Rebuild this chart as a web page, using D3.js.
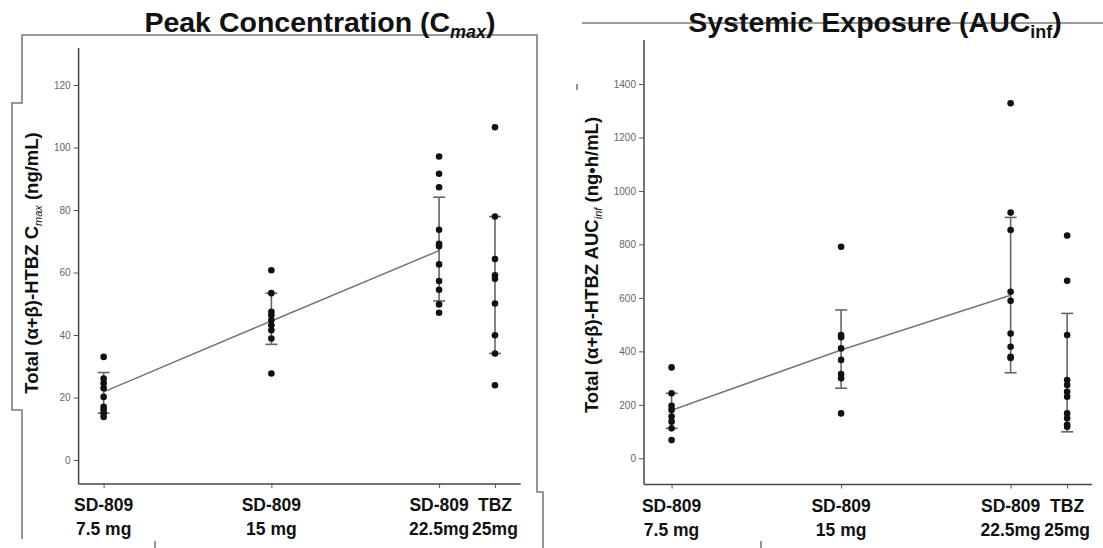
<!DOCTYPE html>
<html><head><meta charset="utf-8">
<script src="https://cdn.jsdelivr.net/npm/d3@7"></script>
<style>html,body{margin:0;padding:0;background:#fff;}svg{display:block;font-family:"Liberation Sans",Arial,sans-serif;}</style>
</head><body>
<svg id="c" width="1103" height="548"></svg>
<script>
// ---- data ----
const categories = ["SD-809|7.5 mg", "SD-809|15 mg", "SD-809|22.5mg", "TBZ|25mg"];
const doses = [7.5, 15, 22.5, 25];

const cmaxPoints = [
  [33.0, 26.1, 24.6, 23.0, 20.2, 17.0, 16.0, 15.0, 13.8],
  [60.7, 53.4, 47.4, 46.3, 44.7, 43.1, 41.5, 38.9, 27.7],
  [97.1, 91.6, 87.3, 73.7, 69.2, 68.4, 62.6, 57.3, 54.5, 49.8, 47.1],
  [106.5, 77.9, 64.3, 59.1, 58.0, 50.1, 39.9, 34.1, 23.9]
];
const cmaxMean = [21.8, 44.5, 67.0, 56.0];
const cmaxUpper = [28.0, 53.4, 84.1, 77.9];
const cmaxLower = [15.0, 37.0, 50.9, 34.1];
const cmaxTicks = [0, 20, 40, 60, 80, 100, 120];

const aucPoints = [
  [340, 243, 196, 181, 156, 137, 112, 68],
  [791, 461, 453, 411, 368, 315, 299, 168],
  [1328, 919, 854, 623, 589, 467, 417, 380, 375],
  [833, 664, 461, 293, 274, 249, 230, 168, 150, 125, 118]
];
const aucMean = [180, 405, 610, 320];
const aucUpper = [243, 555, 901, 542];
const aucLower = [112, 262, 320, 99];
const aucTicks = [0, 200, 400, 600, 800, 1000, 1200, 1400];

const svg = d3.select("#c");

// decorative frame remnants
const deco = svg.append("g").attr("fill","none").attr("stroke","#7a7a7a").attr("stroke-width",1.6);
deco.append("path").attr("d","M22,539V410H12V103H22V35H537V492H543V548");
deco.append("path").attr("d","M155,541V548");
deco.append("path").attr("d","M582,23H1103");
deco.append("path").attr("d","M761,541V548");
deco.append("path").attr("d","M577,84V90");

function panel(o){
  const g = svg.append("g");
  const x = d3.scaleLinear().domain(o.xDom).range([o.x0, o.x1]);
  const y = d3.scaleLinear().domain(o.yDom).range([o.y0, o.y1]);
  // axes lines
  g.append("line").attr("x1",o.x0).attr("x2",o.x0).attr("y1",o.yTop).attr("y2",o.yAx)
    .attr("stroke","#444").attr("stroke-width",1.5);
  g.append("line").attr("x1",o.x0).attr("x2",o.x1).attr("y1",o.yAx).attr("y2",o.yAx)
    .attr("stroke","#444").attr("stroke-width",1.5);
  // y ticks
  const ya = g.append("g").attr("transform",`translate(${o.x0},0)`)
    .call(d3.axisLeft(y).tickValues(o.ticks).tickSize(5).tickPadding(3).tickFormat(d3.format("d")));
  ya.select(".domain").remove();
  ya.selectAll("line").attr("stroke","#555");
  ya.selectAll("text").attr("fill","#666").style("font-size","10px").style("font-family","Liberation Sans, Arial, sans-serif");
  // x ticks
  const xa = g.append("g").attr("transform",`translate(0,${o.yAx})`)
    .call(d3.axisBottom(x).tickValues(doses).tickSize(4).tickFormat(""));
  xa.select(".domain").remove();
  xa.selectAll("line").attr("stroke","#555");
  // x labels
  categories.forEach((c,i)=>{
    const [a,b] = c.split("|");
    const t = g.append("text").attr("x",x(doses[i])).attr("text-anchor","middle")
      .attr("font-weight","bold").attr("font-size",17.5).attr("fill","#111");
    t.append("tspan").attr("x",x(doses[i])).attr("y",o.yAx+27).text(a);
    t.append("tspan").attr("x",x(doses[i])).attr("y",o.yAx+51).text(b);
  });
  // mean line through SD-809 groups
  const line = d3.line().x((d,i)=>x(doses[i])).y(d=>y(d));
  g.append("path").datum(o.mean.slice(0,3)).attr("d",line)
    .attr("fill","none").attr("stroke","#777").attr("stroke-width",1.5);
  // error bars
  doses.forEach((d,i)=>{
    const cx = x(d);
    g.append("line").attr("x1",cx).attr("x2",cx).attr("y1",y(o.upper[i])).attr("y2",y(o.lower[i]))
      .attr("stroke","#666").attr("stroke-width",1.6);
    [o.upper[i], o.lower[i]].forEach(v=>{
      g.append("line").attr("x1",cx-6).attr("x2",cx+6).attr("y1",y(v)).attr("y2",y(v))
        .attr("stroke","#666").attr("stroke-width",1.6);
    });
  });
  // points
  o.points.forEach((arr,i)=>{
    g.selectAll(null).data(arr).enter().append("circle")
      .attr("cx",x(doses[i])).attr("cy",v=>y(v)).attr("r",3.3).attr("fill","#111");
  });
  // y label
  const yl = g.append("text").attr("transform",`translate(${o.ylx},${o.yly}) rotate(-90)`)
    .attr("text-anchor","middle").attr("font-weight","bold").attr("font-size",18.5).attr("fill","#111");
  yl.append("tspan").text(o.ylab[0]);
  yl.append("tspan").attr("font-size",11).attr("font-style","italic").attr("font-weight","normal").attr("dy",4).text(o.ylab[1]);
  yl.append("tspan").attr("dy",-4).text(o.ylab[2]);
  // title
  const t = svg.append("text").attr("x",o.tx).attr("y",o.ty).attr("text-anchor","middle")
    .attr("font-weight","bold").attr("font-size",28.5).attr("fill","#111");
  t.append("tspan").text(o.title[0]);
  t.append("tspan").attr("font-size",18).attr("font-style",o.titleItalic ? "italic" : "normal").attr("dy",6).text(o.title[1]);
  t.append("tspan").attr("dy",-6).text(o.title[2]);
}

panel({
  xDom:[6.38, 26.15], x0:78.6, x1:520.7,
  yDom:[0,120], y0:460, y1:85, yTop:48, yAx:484,
  ticks:cmaxTicks, points:cmaxPoints, mean:cmaxMean, upper:cmaxUpper, lower:cmaxLower,
  ylab:["Total (α+β)-HTBZ C","max"," (ng/mL)"], ylx:38, yly:263,
  title:["Peak Concentration (C","max",")"], titleItalic:true, tx:320, ty:32
});
panel({
  xDom:[6.28, 26.1], x0:644, x1:1092,
  yDom:[0,1400], y0:458.3, y1:84, yTop:40, yAx:484.6,
  ticks:aucTicks, points:aucPoints, mean:aucMean, upper:aucUpper, lower:aucLower,
  ylab:["Total (α+β)-HTBZ AUC","inf"," (ng•h/mL)"], ylx:598, yly:265,
  title:["Systemic Exposure (AUC","inf",")"], titleItalic:false, tx:875, ty:32
});
</script>
</body></html>
